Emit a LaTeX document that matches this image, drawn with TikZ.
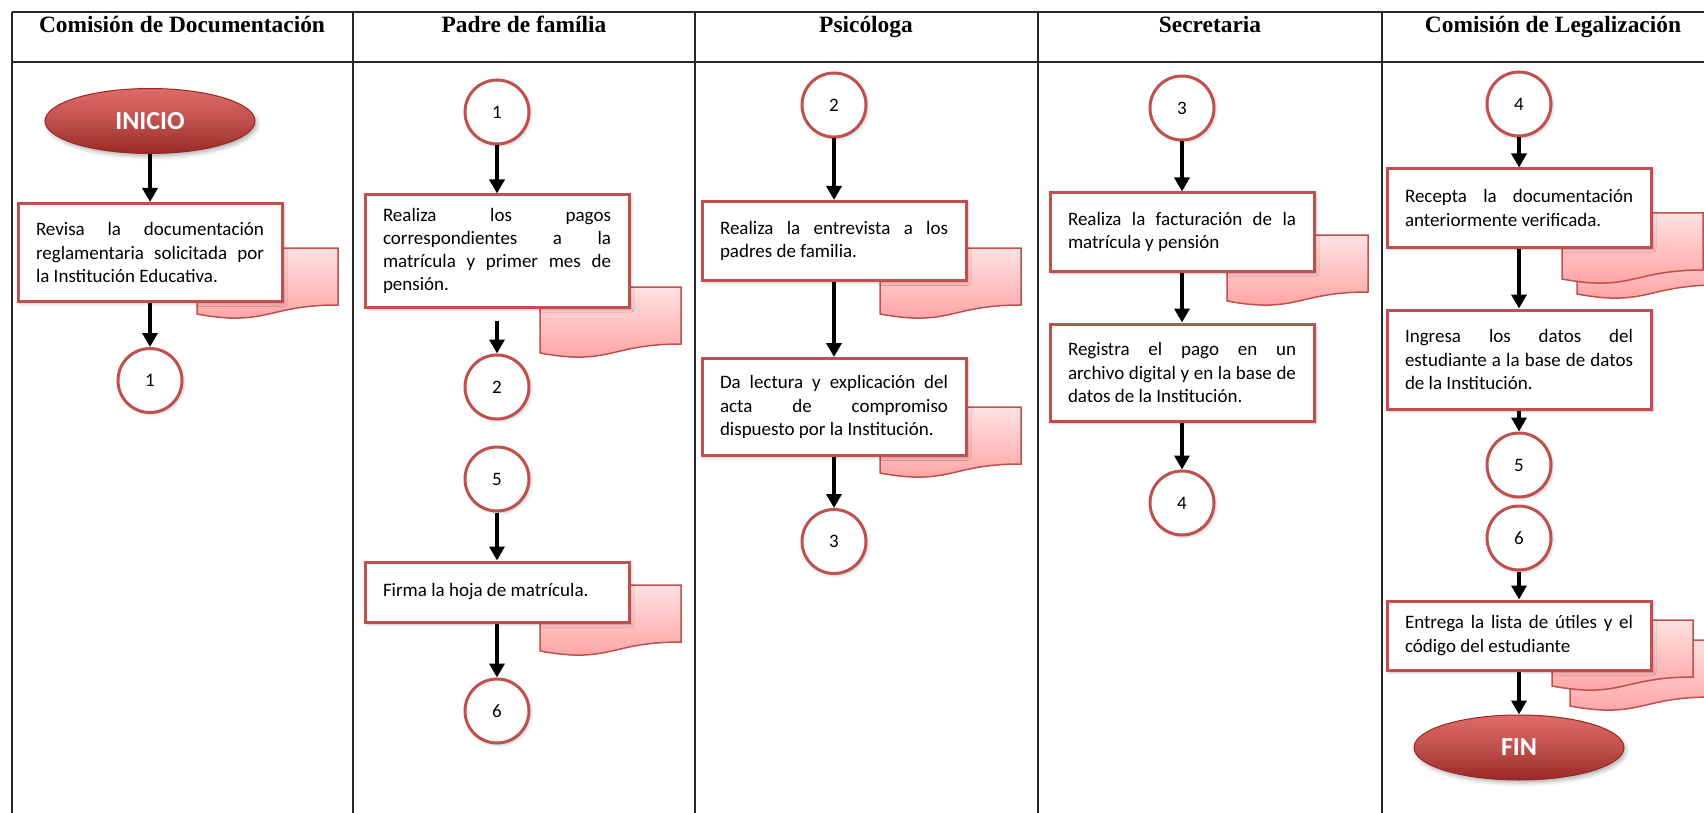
\documentclass[tikz,border=0pt]{standalone}
\usepackage{fontspec}
\setmainfont{Carlito}
\newfontfamily\serifcab{Liberation Serif}
\usepackage{tikz}
\usetikzlibrary{arrows.meta,positioning,shadows.blur,shapes.geometric}
\definecolor{flujorojo}{HTML}{C0504D}
\definecolor{flujorosa}{HTML}{FF9E9E}
\definecolor{flujorosaclaro}{HTML}{FFE1E1}
\definecolor{flujovino}{HTML}{9A2926}
\definecolor{flujoclaro}{HTML}{DE6B67}
\tolerance=10000
\hyphenpenalty=10000
\newcommand{\hojadoc}[2]{\draw[hoja,shift={(#1,#2)}] (0,0) -- (141,0) -- (141,57) .. controls (70,57) and (70,79) .. (0,66) -- cycle;}

\begin{document}
\begin{tikzpicture}[x=0.5pt,y=-0.5pt,node distance=24pt]
    \tikzstyle{caja}=[rectangle,draw=flujorojo,line width=1.5pt,fill=white,text width=114pt,inner xsep=9pt,inner ysep=0pt,align=justify,font=\fontsize{9.5}{11.6}\selectfont,blur shadow={shadow xshift=1pt,shadow yshift=-1pt,shadow blur radius=1.5pt,shadow opacity=25}]
    \tikzstyle{conector}=[circle,draw=flujorojo,line width=1.5pt,fill=white,minimum size=32pt,inner sep=0pt,font=\fontsize{9.5}{11.6}\selectfont,blur shadow={shadow xshift=1pt,shadow yshift=-1pt,shadow blur radius=1.5pt,shadow opacity=20}]
    \tikzstyle{terminal}=[ellipse,draw=flujovino,line width=0.5pt,top color=flujoclaro,bottom color=flujovino,middle color=flujorojo,minimum width=105pt,minimum height=32.5pt,text=white,font=\bfseries\fontsize{13}{13}\selectfont,blur shadow={shadow xshift=1pt,shadow yshift=-1.5pt,shadow blur radius=2pt,shadow opacity=30}]
    \tikzstyle{hoja}=[draw=flujorojo,line width=0.75pt,top color=flujorosaclaro,bottom color=flujorosa]
    \tikzstyle{flecha}=[-{Triangle[length=7pt,width=7.5pt]},line width=2pt,black]
    \tikzstyle{cabecera}=[anchor=base,font=\serifcab\bfseries\fontsize{11.7}{14}\selectfont]
    \useasboundingbox (0,0) rectangle (1704,813);
    \clip (0,0) rectangle (1704,813);
    \draw[line width=1pt,black!85] (12,12) -- (1730,12) (12,62) -- (1730,62);
    \foreach \x in {12,353,695,1038,1382} \draw[line width=1pt,black!85] (\x,12) -- (\x,830);
    \node[cabecera] (h1) at (182,33) {Comisión de Documentación};
    \node[cabecera] (h2) at (524,33) {Padre de família};
    \node[cabecera] (h3) at (866,33) {Psicóloga};
    \node[cabecera] (h4) at (1210,33) {Secretaria};
    \node[cabecera] (h5) at (1553,33) {Comisión de Legalización};
    \hojadoc{197}{248}
    \hojadoc{540}{287}
    \hojadoc{540}{585}
    \hojadoc{880}{248}
    \hojadoc{880}{407}
    \hojadoc{1227}{235}
    \hojadoc{1577}{228}
    \hojadoc{1562}{213}
    \hojadoc{1570}{640}
    \hojadoc{1552}{620}
    \node[terminal] (ini) at (150,121) {INICIO};
    \node[caja,minimum height=49pt,below=of ini] (cd1) {Revisa la documentación\linebreak reglamentaria solicitada por\linebreak la Institución Educativa.};
    \node[conector,below=22pt of cd1] (cd1c) {1};
    \node[conector] (pf1) at (497,112) {1};
    \node[caja,minimum height=56pt,below=of pf1] (pfa) {Realiza los pagos\linebreak correspondientes a la\linebreak matrícula y primer mes de\linebreak pensión.};
    \node[conector,below=22.5pt of pfa] (pf2) {2};
    \node[conector,below=12.5pt of pf2] (pf5) {5};
    \node[caja,minimum height=30pt,below=of pf5] (pfb) {Firma la hoja de matrícula.};
    \node[conector,below=27pt of pfb] (pf6) {6};
    \node[conector] (ps2) at (834,105) {2};
    \node[caja,minimum height=39.5pt,below=30.75pt of ps2] (psa) {Realiza la entrevista a los\linebreak padres de familia.};
    \node[caja,minimum height=48.5pt,below=37.5pt of psa] (psb) {Da lectura y explicación del\linebreak acta de compromiso\linebreak dispuesto por la Institución.};
    \node[conector,below=25.5pt of psb] (ps3) {3};
    \node[conector] (se3) at (1182,108) {3};
    \node[caja,minimum height=39pt,below=25pt of se3] (sea) {Realiza la facturación de la\linebreak matrícula y pensión};
    \node[caja,minimum height=48.5pt,below=25pt of sea] (seb) {Registra el pago en un\linebreak archivo digital y en la base de\linebreak datos de la Institución.};
    \node[conector,below=23.5pt of seb] (se4) {4};
    \node[conector] (cl4) at (1519,104) {4};
    \node[caja,minimum height=39pt,below=15pt of cl4] (cla) {Recepta la documentación\linebreak anteriormente verificada.};
    \node[caja,minimum height=49.5pt,below=30pt of cla] (clb) {Ingresa los datos del\linebreak estudiante a la base de datos\linebreak de la Institución.};
    \node[conector,below=10.5pt of clb] (cl5) {5};
    \node[conector,below=3pt of cl5] (cl6) {6};
    \node[caja,minimum height=34.5pt,below=14pt of cl6] (clc) {Entrega la lista de útiles y el\linebreak código del estudiante};
    \node[terminal,below=21.5pt of clc] (fin) {FIN};
    \foreach \a/\b in {ini/cd1,cd1/cd1c,pf1/pfa,pf5/pfb,pfb/pf6,ps2/psa,psa/psb,psb/ps3,se3/sea,sea/seb,seb/se4,cl4/cla,cla/clb,clb/cl5,cl6/clc,clc/fin}
        \draw[flecha] (\a) -- (\b);
    \draw[flecha,shorten <=6pt] (pfa) -- (pf2);
\end{tikzpicture}
\end{document}
